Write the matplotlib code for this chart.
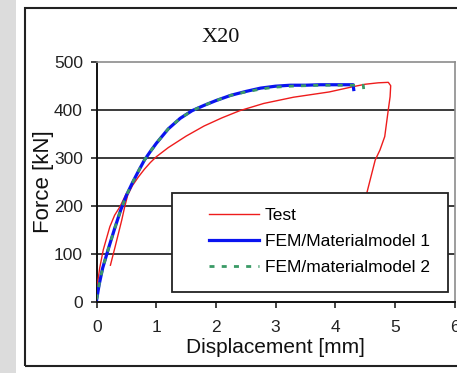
import numpy as np
import matplotlib
matplotlib.use("Agg")
import matplotlib.pyplot as plt
from matplotlib.patches import Rectangle

nan = float("nan")

# ---- data ----
test_x = [0.0, 0.05, 0.11, 0.22, 0.30, 0.39, 0.50, nan,
          0.23, 0.31, 0.42, 0.47, 0.52, 0.60, 0.70, 0.80, 0.90, 1.00, 1.20, 1.50,
          1.80, 2.10, 2.40, 2.80, 3.30, 3.90, 4.30, 4.50, 4.72, 4.89, 4.93, 4.92,
          4.89, 4.83, 4.75, 4.67, 4.50, 4.42]
test_f = [26, 70, 108, 156, 180, 198, 226, nan,
          76, 115, 170, 198, 222, 242, 260, 276, 290, 302, 321, 345,
          366, 383, 398, 413, 426, 437, 448, 453, 456, 457, 450, 427,
          400, 344, 316, 295, 212, 180]

fem1_x = [0.0, 0.04, 0.10, 0.20, 0.30, 0.40, 0.50, 0.60, 0.70, 0.80, 0.90, 1.00,
          1.20, 1.40, 1.60, 1.80, 2.00, 2.25, 2.50, 2.75, 3.00, 3.25, 3.50,
          3.75, 4.00, 4.30, 4.31]
fem1_f = [5, 35, 70, 112, 152, 190, 222, 248, 272, 295, 313, 330,
          360, 382, 398, 409, 419, 430, 438, 445, 449, 451, 451,
          452, 452, 452, 442]

fem2_x = [0.0, 0.04, 0.10, 0.20, 0.30, 0.40, 0.50, 0.60, 0.70, 0.80, 0.90, 1.00,
          1.20, 1.40, 1.60, 1.80, 2.00, 2.25, 2.50, 2.75, 3.00, 3.25, 3.50,
          3.75, 4.00, 4.30, 4.47, 4.48]
fem2_f = [5, 35, 70, 112, 152, 190, 222, 248, 272, 295, 313, 330,
          360, 382, 398, 409, 419, 430, 437, 443, 447, 449, 450,
          451, 451, 451, 451, 440]

x_ticks = [0, 1, 2, 3, 4, 5, 6]
y_ticks = [0, 100, 200, 300, 400, 500]
series_labels = ["Test", "FEM/Materialmodel 1", "FEM/materialmodel 2"]
title = "X20"
xlabel = "Displacement [mm]"
ylabel = "Force [kN]"

W, H = 457, 373
fig = plt.figure(figsize=(W / 100, H / 100), dpi=100)
fig.patch.set_facecolor("white")

# background decorations
fig.patches.append(Rectangle((0, 0), 16 / W, 1, transform=fig.transFigure,
                             facecolor="#dcdcdc", edgecolor="none", zorder=0))
fig.patches.append(Rectangle((25 / W, 1 - 366 / H), 1.2, (366 - 7.5) / H,
                             transform=fig.transFigure, facecolor="none",
                             edgecolor="#222222", lw=1.5, zorder=1))

ax_l, ax_r, ax_t, ax_b = 96.7, 454.5, 61.7, 301.7
ax = fig.add_axes([ax_l / W, 1 - ax_b / H, (ax_r - ax_l) / W, (ax_b - ax_t) / H])

font = "Liberation Sans"

l_test, = ax.plot(test_x, test_f, color="#ee1c1c", lw=1.0, zorder=3)
l_fem1, = ax.plot(fem1_x, fem1_f, color="#0a14f0", lw=2.3, zorder=3)
l_fem2, = ax.plot(fem2_x, fem2_f, color="#3a9a66", lw=2.0, zorder=3,
                  linestyle=(0, (1.8, 2.6)))

ax.set_xlim(0, 6)
ax.set_ylim(0, 500)
ax.set_xticks(x_ticks)
ax.set_yticks(y_ticks)
ax.set_xticklabels([str(v) for v in x_ticks], fontfamily=font, fontsize=12.5)
ax.set_yticklabels([str(v) for v in y_ticks], fontfamily=font, fontsize=12.5)
ax.tick_params(axis="x", direction="out", length=4, width=1.2, pad=9, colors="#222222")
ax.tick_params(axis="y", direction="out", length=4.5, width=1.2, pad=5.5, colors="#222222")
for lab in ax.get_xticklabels() + ax.get_yticklabels():
    lab.set_color("#222222")

for yv in y_ticks[1:-1]:
    ax.axhline(yv, color="#3a3a3a", lw=1.4, zorder=1)

ax.spines["left"].set_color("#111111")
ax.spines["left"].set_linewidth(1.4)
ax.spines["bottom"].set_color("#111111")
ax.spines["bottom"].set_linewidth(1.4)
ax.spines["top"].set_color("#8c8c8c")
ax.spines["top"].set_linewidth(1.2)
ax.spines["right"].set_color("#8c8c8c")
ax.spines["right"].set_linewidth(1.2)

ax.set_xlabel(xlabel, fontfamily=font, fontsize=15, labelpad=2, color="#111111")
ax.set_ylabel(ylabel, fontfamily=font, fontsize=16, labelpad=0, color="#111111")

fig.text(220.7 / W, 1 - 41.7 / H, title, fontfamily="Liberation Serif", fontsize=16,
         ha="center", va="baseline", color="#111111")

# legend frame and entries
lx0, lx1, ly0, ly1 = 171.7, 447.7, 292.3, 192.7
ax.add_patch(Rectangle(((lx0 - ax_l) / (ax_r - ax_l), (ax_b - ly0) / (ax_b - ax_t)),
                       (lx1 - lx0) / (ax_r - ax_l), (ly0 - ly1) / (ax_b - ax_t),
                       transform=ax.transAxes, facecolor="white", edgecolor="#222222",
                       lw=1.3, zorder=5, clip_on=False))
leg = ax.legend([l_test, l_fem1, l_fem2], series_labels, loc="center left",
                bbox_to_anchor=((200 - ax_l) / (ax_r - ax_l), (ax_b - 241.7) / (ax_b - ax_t)),
                frameon=False, borderpad=0, handlelength=2.9, handletextpad=0.35,
                labelspacing=0.62, prop={"family": font, "size": 12.5})
leg.set_zorder(6)

fig.savefig("out.png", dpi=100)
